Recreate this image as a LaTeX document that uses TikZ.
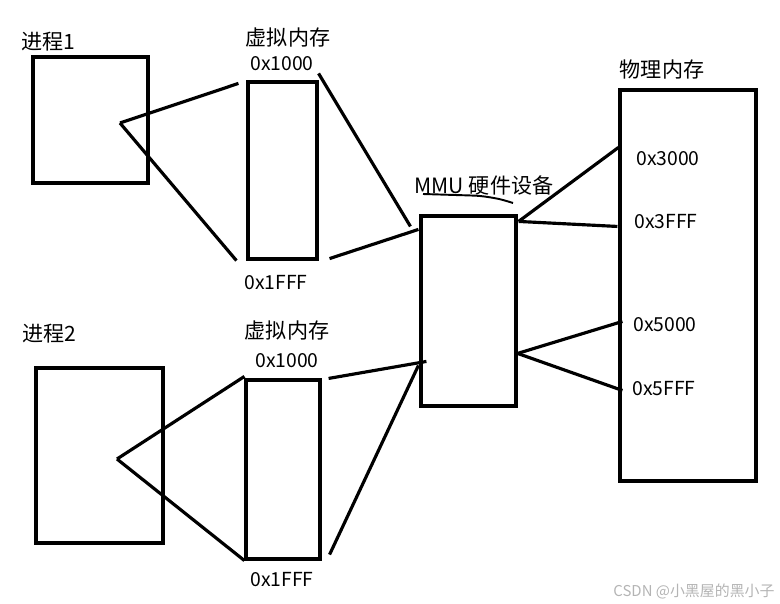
\documentclass[tikz,border=0pt]{standalone}
\usepackage{fontspec}
\setmainfont{Noto Sans CJK SC}
\definecolor{wmgray}{HTML}{B4B4B4}

\begin{document}
\begin{tikzpicture}[x=0.02cm, y=-0.02cm]
\tikzset{
box/.style={draw, line width=1.8pt, inner sep=0pt},
wire/.style={line width=1.8pt},
cn/.style={font=\fontsize{12}{14}\selectfont, inner sep=0pt},
addr/.style={font=\fontsize{11}{13}\selectfont, inner sep=0pt}
}
\useasboundingbox (0,0) rectangle (780,604);

	% boxes
	\node[box, minimum width=2.3cm, minimum height=2.52cm] at (90.5,120) (p1) {};
	\node[box, minimum width=1.38cm, minimum height=3.54cm] at (282.5,170.5) (vm1) {};
	\node[box, minimum width=2.54cm, minimum height=3.5cm] at (99.5,455.5) (p2) {};
	\node[box, minimum width=1.48cm, minimum height=3.58cm] at (283,469.5) (vm2) {};
	\node[box, minimum width=1.9cm, minimum height=3.8cm] at (468.5,311) (mmu) {};
	\node[box, minimum width=2.72cm, minimum height=7.82cm] at (688,285.5) (phys) {};

	% labels
	\node[cn] at (48,42) (p1lbl) {进程1};
	\node[cn] at (49,334) (p2lbl) {进程2};
	\node[cn] at (288,38) (vm1lbl) {虚拟内存};
	\node[cn] at (287,331) (vm2lbl) {虚拟内存};
	\node[cn] at (484,185) (mmulbl) {MMU 硬件设备};
	\node[cn] at (662,70) (physlbl) {物理内存};

	\node[addr] at (282,64) (vm1top) {0x1000};
	\node[addr] at (276,283) (vm1bot) {0x1FFF};
	\node[addr] at (287,361) (vm2top) {0x1000};
	\node[addr] at (282,580) (vm2bot) {0x1FFF};
	\node[addr] at (668,159) (a3000) {0x3000};
	\node[addr] at (666,222) (a3fff) {0x3FFF};
	\node[addr] at (665,325) (a5000) {0x5000};
	\node[addr] at (664,389) (a5fff) {0x5FFF};

	\node[font=\fontsize{8.5}{10}\selectfont, text=wmgray, inner sep=0pt] at (694,591) (wm) {CSDN @小黑屋的黑小子};

	% squiggle under the MMU label
	\draw[line width=1.1pt] plot[smooth] coordinates {(423,194) (455,195) (480,196) (499,199) (513,203)};

	% forks inside the processes
	\coordinate (fork1) at (120,123);
	\coordinate (fork2) at (117,459);

	\draw[wire] (fork1) -- ([shift={(-8,3)}]vm1.north west);
	\draw[wire] (fork1) -- ([shift={(-10,0)}]vm1.south west);
	\draw[wire] (fork2) -- ([shift={(0,-2)}]vm2.north west);
	\draw[wire] (fork2) -- (vm2.south west);

	% virtual memory to mmu
	\draw[wire] ([shift={(0,-7)}]vm1.north east) -- ([shift={(-9,12)}]mmu.north west);
	\draw[wire] ([shift={(11,-2)}]vm1.south east) -- ([shift={(-1,15)}]mmu.north west);
	\draw[wire] ([shift={(7,0)}]vm2.north east) -- ([shift={(7,147)}]mmu.north west);
	\draw[wire] ([shift={(8,-6)}]vm2.south east) -- ([shift={(-1,151)}]mmu.north west);

	% mmu to physical memory
	\coordinate (hi) at ([shift={(1,7)}]mmu.north east);
	\coordinate (lo) at ([shift={(0,139)}]mmu.north east);
	\draw[wire] (hi) -- ([shift={(0,59)}]phys.north west);
	\draw[wire] (hi) -- ([shift={(-1,138)}]phys.north west);
	\draw[wire] (lo) -- ([shift={(4,233)}]phys.north west);
	\draw[wire] (lo) -- ([shift={(4,302)}]phys.north west);

\end{tikzpicture}
\end{document}
